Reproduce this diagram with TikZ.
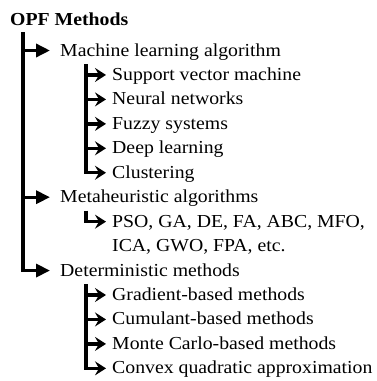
\documentclass[tikz,border=0pt]{standalone}
\usepackage{fontspec}
\setmainfont{Liberation Serif}
\usetikzlibrary{positioning,arrows.meta,calc}
\tikzset{
  item/.style={anchor=base west,inner sep=0pt,font=\fontsize{18.3}{20}\selectfont,xscale=1.08},
  head/.style={item,font=\fontsize{18.3}{20}\selectfont\bfseries},
  ar/.style={line width=3.4pt,-{Triangle[length=14pt,width=13pt]}},
  subar/.style={line width=3.4pt,-{Stealth[length=11pt,width=14pt,inset=4pt]}},
}

\begin{document}
\begin{tikzpicture}[x=1pt,y=-1pt]
  \useasboundingbox (0,0) rectangle (377,381);
  % title and first level
  \node[head] (opf) at (10,25) {OPF Methods};
  \node[item] (ml) at (60,56) {Machine learning algorithm};
  \node[item] (meta) at (60,202.7) {Metaheuristic algorithms};
  \node[item] (det) at (60,276.05) {Deterministic methods};
  % second level
  \node[item] (svm) at (112,80.45) {Support vector machine};
  \node[item] (nn) at (112,104.9) {Neural networks};
  \node[item] (fuzzy) at (112,129.35) {Fuzzy systems};
  \node[item] (deep) at (112,153.8) {Deep learning};
  \node[item] (clust) at (112,178.25) {Clustering};
  \node[item] (pso) at (112,227.15) {PSO, GA, DE, FA, ABC, MFO,};
  \node[item] (ica) at (112,251.6) {ICA, GWO, FPA, etc.};
  \node[item] (grad) at (112,300.5) {Gradient-based methods};
  \node[item] (cumul) at (112,324.95) {Cumulant-based methods};
  \node[item] (monte) at (112,349.4) {Monte Carlo-based methods};
  \node[item] (convex) at (112,373.85) {Convex quadratic approximation};

  % arrow ends
  \foreach \n in {ml,meta,det}
    \coordinate (\n-in) at ($(\n.base west)+(-10,-5.5)$);
  \foreach \n in {svm,nn,fuzzy,deep,clust,pso,grad,cumul,monte,convex}
    \coordinate (\n-in) at ($(\n.base west)+(-6,-5.5)$);

  % trunk
  \coordinate (root) at (23,32);
  \draw[ar] (root) |- (det-in);
  \draw[ar] (root |- ml-in) -- (ml-in);
  \draw[ar] (root |- meta-in) -- (meta-in);

  % branches
  \coordinate (mlroot) at (86,64);
  \draw[subar] (mlroot) |- (clust-in);
  \foreach \n in {svm,nn,fuzzy,deep}
    \draw[subar] (mlroot |- \n-in) -- (\n-in);
  \coordinate (metaroot) at (86,210.7);
  \draw[subar] (metaroot) |- (pso-in);
  \coordinate (detroot) at (86,284);
  \draw[subar] (detroot) |- (convex-in);
  \foreach \n in {grad,cumul,monte}
    \draw[subar] (detroot |- \n-in) -- (\n-in);
\end{tikzpicture}
\end{document}
